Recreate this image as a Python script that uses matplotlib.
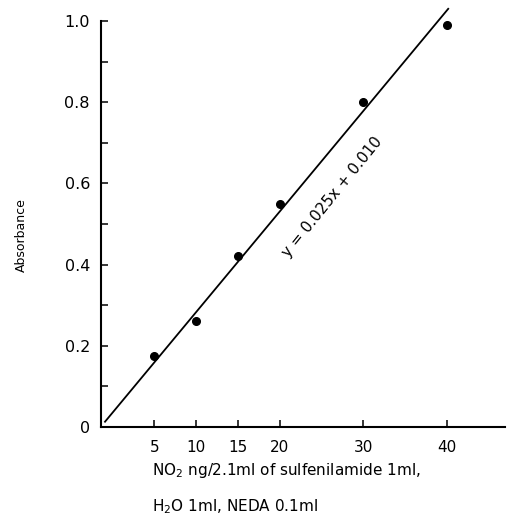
import matplotlib.pyplot as plt

# nitrite calibration: absorbance vs NO2 amount
no2_ng = [5, 10, 15, 20, 30, 40]
absorbance = [0.175, 0.26, 0.42, 0.55, 0.80, 0.99]

# regression line as drawn on the original
fit_x = [-0.9, 40.2]
fit_y = [0.013, 1.03]
fit_label = "y = 0.025x + 0.010"

x_ticks = [5, 10, 15, 20, 30, 40]
y_ticks = [0, 0.1, 0.2, 0.3, 0.4, 0.5, 0.6, 0.7, 0.8, 0.9, 1.0]
y_ticklabels = ["0", "", "0.2", "", "0.4", "", "0.6", "", "0.8", "", "1.0"]

plt.rcParams['font.family'] = ['DejaVu Sans']

fig = plt.figure(figsize=(5.17, 5.16), dpi=100)
ax = fig.add_axes([101 / 517, 1 - 427 / 516, 404 / 517, 406 / 516])

ax.plot(fit_x, fit_y, color='black', linewidth=1.3, clip_on=False, zorder=1)
ax.plot(no2_ng, absorbance, 'o', color='black', markersize=5.5, zorder=2, clip_on=False)

ax.text(26.3, 0.566, fit_label, rotation=51, ha='center', va='center',
        rotation_mode='anchor', fontsize=11)

ax.set_xlim(-1.38, 47.0)
ax.set_ylim(0, 1.0)
ax.set_xticks(x_ticks)
ax.set_xticklabels([str(v) for v in x_ticks], fontsize=11)
ax.set_yticks(y_ticks)
ax.set_yticklabels(y_ticklabels, fontsize=11.5)
ax.tick_params(direction='in', length=5, width=1.1)
ax.tick_params(axis='x', pad=9)
ax.tick_params(axis='y', pad=8)

for s in ['top', 'right']:
    ax.spines[s].set_visible(False)
for s in ['left', 'bottom']:
    ax.spines[s].set_linewidth(1.5)

fig.text(21.7 / 517, 1 - 235 / 516, "Absorbance", rotation=90,
         ha='center', va='center', fontsize=9)
fig.text(152 / 517, 1 - 470 / 516, r"NO$_2$ ng/2.1ml of sulfenilamide 1ml,",
         ha='left', va='center', fontsize=11)
fig.text(152 / 517, 1 - 507 / 516, r"H$_2$O 1ml, NEDA 0.1ml",
         ha='left', va='center', fontsize=11)

fig.savefig('out.png', dpi=100)
